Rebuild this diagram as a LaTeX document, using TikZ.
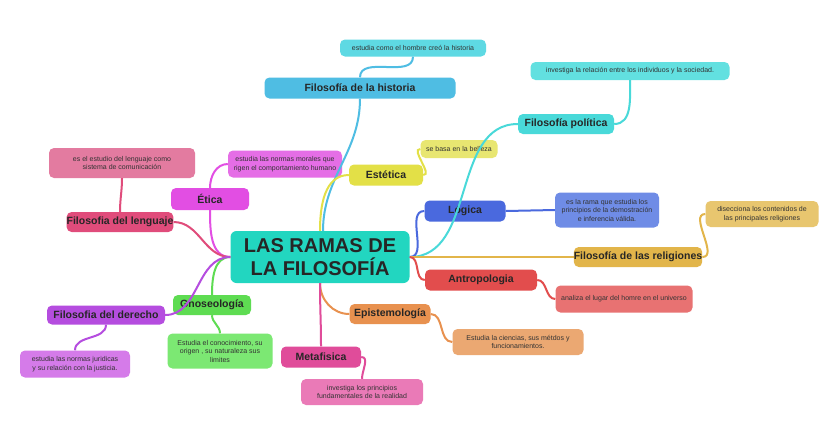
\documentclass[tikz,border=0pt]{standalone}
\usepackage{fontspec}
\setmainfont{Liberation Sans}
\begin{document}
\begin{tikzpicture}[x=1pt,y=-1pt,
 br/.style={rounded corners=5pt,font=\bfseries\fontsize{10.5}{12}\selectfont,text=black!85,inner sep=0pt,anchor=center},
 dt/.style={rounded corners=5pt,font=\fontsize{7}{8.5}\selectfont,text=black!80,inner sep=0pt,align=center,anchor=center},
 ln/.style={line width=2pt}]
\useasboundingbox[fill=white] (0,0) rectangle (840,424);
\definecolor{cmain}{HTML}{22D6C0}
\definecolor{chis}{HTML}{4FBDE3}\definecolor{chisd}{HTML}{5ED9E3}
\definecolor{cpol}{HTML}{49D9D9}\definecolor{cpold}{HTML}{62E0E0}
\definecolor{cest}{HTML}{E3E047}\definecolor{cestd}{HTML}{E8E671}
\definecolor{ceti}{HTML}{E24EE3}\definecolor{cetid}{HTML}{E56EE6}
\definecolor{clen}{HTML}{E04C7B}\definecolor{clend}{HTML}{E37BA0}
\definecolor{clog}{HTML}{4A69DE}\definecolor{clogd}{HTML}{6F8CE6}
\definecolor{crel}{HTML}{E2B54A}\definecolor{creld}{HTML}{E8C66F}
\definecolor{cant}{HTML}{E24D4D}\definecolor{cantd}{HTML}{E87272}
\definecolor{cepi}{HTML}{E8914F}\definecolor{cepid}{HTML}{EBA872}
\definecolor{cgno}{HTML}{5EDC52}\definecolor{cgnod}{HTML}{7CE873}
\definecolor{cder}{HTML}{B54DDF}\definecolor{cderd}{HTML}{D57BE9}
\definecolor{cmet}{HTML}{E04C9A}\definecolor{cmetd}{HTML}{EA7AB7}

\node[rounded corners=6pt,fill=cmain,minimum width=179pt,minimum height=52pt,align=center,font=\bfseries\fontsize{20}{23}\selectfont,text=black!85] (main) at (320,257) {LAS RAMAS DE\\LA FILOSOFÍA};

\node[br,fill=chis,minimum width=191pt,minimum height=21pt] (his) at (360,88) {Filosofía de la historia};
\node[dt,fill=chisd,minimum width=146pt,minimum height=17pt] (hisd) at (413,48) {estudia como el hombre creó la historia};
\node[br,fill=cpol,minimum width=96pt,minimum height=20pt] (pol) at (566,124) {Filosofía política};
\node[dt,fill=cpold,minimum width=199pt,minimum height=18pt] (pold) at (630,71) {investiga la relación entre los individuos y la sociedad.};
\node[br,fill=cest,minimum width=74pt,minimum height=21pt] (est) at (386,175) {Estética};
\node[dt,fill=cestd,minimum width=77pt,minimum height=18pt] (estd) at (459,149) {se basa en la belleza};
\node[br,fill=ceti,minimum width=78pt,minimum height=22pt] (eti) at (210,199) {Ética};
\node[dt,fill=cetid,minimum width=114pt,minimum height=27pt] (etid) at (285,164) {estudia las normas morales que\\rigen el comportamiento humano};
\node[br,fill=clen,minimum width=100pt,minimum height=20pt] (len) at (120,222) {Filosofia del lenguaje};
\node[dt,fill=clend,minimum width=146pt,minimum height=30pt] (lend) at (122,163) {es el estudio del lenguaje como\\sistema de comunicación};
\node[br,fill=clog,minimum width=81pt,minimum height=21pt] (log) at (465,211) {Lógica};
\node[dt,fill=clogd,minimum width=104pt,minimum height=35pt] (logd) at (607,210) {es la rama que estudia los\\principios de la demostración\\e inferencia válida.};
\node[br,fill=crel,minimum width=128pt,minimum height=20pt] (rel) at (638,257) {Filosofía de las religiones};
\node[dt,fill=creld,minimum width=113pt,minimum height=26pt] (reld) at (762,214) {disecciona los contenidos de\\las principales religiones};
\node[br,fill=cant,minimum width=112pt,minimum height=21pt] (ant) at (481,280) {Antropologia};
\node[dt,fill=cantd,minimum width=137pt,minimum height=27pt] (antd) at (624,299) {analiza el lugar del homre en el universo};
\node[br,fill=cepi,minimum width=81pt,minimum height=20pt] (epi) at (390,314) {Epistemología};
\node[dt,fill=cepid,minimum width=131pt,minimum height=26pt] (epid) at (518,342) {Estudia la ciencias, sus métdos y\\funcionamientos.};
\node[br,fill=cgno,minimum width=78pt,minimum height=20pt] (gno) at (212,305) {Gnoseología};
\node[dt,fill=cgnod,minimum width=105pt,minimum height=35pt] (gnod) at (220,351) {Estudia el conocimiento, su\\origen , su naturaleza sus\\limites};
\node[br,fill=cder,minimum width=118pt,minimum height=19pt] (der) at (106,315) {Filosofia del derecho};
\node[dt,fill=cderd,minimum width=110pt,minimum height=27pt] (derd) at (75,364) {estudia las normas juridicas\\y su relación con la justicia.};
\node[br,fill=cmet,minimum width=80pt,minimum height=21pt] (met) at (321,357) {Metafisica};
\node[dt,fill=cmetd,minimum width=122pt,minimum height=26pt] (metd) at (362,392) {investiga los principios\\fundamentales de la realidad};

\begin{scope}[on background layer/.style={}]
\draw[ln,chis] (main.north) ++(3,0) coordinate (m1) (m1) to[out=-90+180,in=-90] (his.south);
\draw[ln,chis] (his.north) to[out=90,in=-90] (hisd.south);
\draw[ln,cpol] (main.east) to[out=0,in=180] (pol.west);
\draw[ln,cpol] (pol.east) to[out=0,in=-90] (pold.south);
\draw[ln,cest] (main.north) to[out=90,in=180] (est.west);
\draw[ln,cest] (est.east) to[out=0,in=180] (estd.west);
\draw[ln,ceti] (main.west) to[out=180,in=-90] (eti.south);
\draw[ln,ceti] (eti.north) to[out=90,in=180] (etid.west);
\draw[ln,clen] (main.west) to[out=180,in=0] (len.east);
\draw[ln,clen] (len.north) to[out=90,in=-90] (lend.south);
\draw[ln,clog] (main.east) to[out=0,in=180] (log.west);
\draw[ln,clog] (log.east) -- (logd.west);
\draw[ln,crel] (main.east) -- (rel.west);
\draw[ln,crel] (rel.east) to[out=0,in=180] (reld.west);
\draw[ln,cant] (main.east) to[out=0,in=180] (ant.west);
\draw[ln,cant] (ant.east) to[out=0,in=180] (antd.west);
\draw[ln,cepi] (main.south) to[out=-90,in=180] (epi.west);
\draw[ln,cepi] (epi.east) to[out=0,in=180] (epid.west);
\draw[ln,cgno] (main.west) to[out=180,in=90] (gno.north);
\draw[ln,cgno] (gno.south) to[out=-90,in=90] (gnod.north);
\draw[ln,cder] (main.west) to[out=180,in=0] (der.east);
\draw[ln,cder] (der.south) to[out=-90,in=90] (derd.north);
\draw[ln,cmet] (main.south) to[out=-90,in=90] (met.north);
\draw[ln,cmet] (met.east) to[out=0,in=90] (metd.north);
\end{scope}
\end{tikzpicture}
\end{document}
